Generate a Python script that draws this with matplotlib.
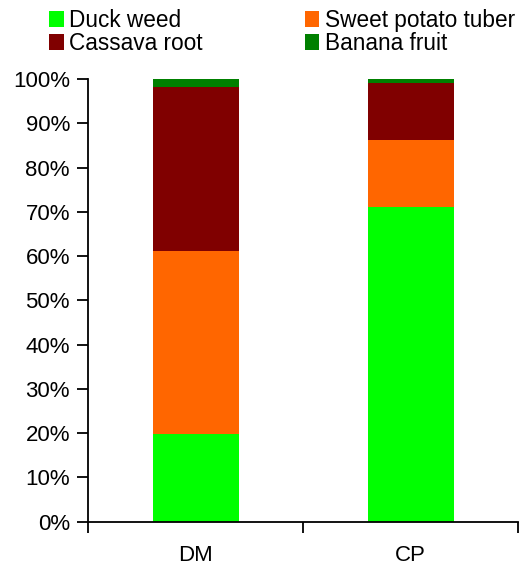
import matplotlib
matplotlib.use("Agg")
import matplotlib.pyplot as plt
from matplotlib.ticker import PercentFormatter, FixedLocator, NullFormatter

plt.rcParams['font.family'] = ['Liberation Sans', 'DejaVu Sans']

categories = ["DM", "CP"]
series_names = ["Duck weed", "Sweet potato tuber", "Cassava root", "Banana fruit"]
duck_weed = [19.7, 71.1]
sweet_potato = [41.5, 15.1]
cassava = [37.0, 12.9]
banana = [1.8, 0.9]
colors = ["#00FF00", "#FF6600", "#800000", "#008000"]
y_ticks = list(range(0, 101, 10))

fig = plt.figure(figsize=(5.29, 5.68), dpi=100)
ax = fig.add_axes([88 / 529, 1 - 521.7 / 568, 430 / 529, (521.7 - 79) / 568])

x = list(range(len(categories)))
bottom = [0.0] * len(categories)
handles = []
for name, vals, col in zip(series_names, [duck_weed, sweet_potato, cassava, banana], colors):
    b = ax.bar(x, vals, width=0.4, bottom=bottom, color=col, label=name, linewidth=0)
    handles.append(b)
    bottom = [bt + v for bt, v in zip(bottom, vals)]

ax.set_xlim(-0.5, 1.5)
ax.set_ylim(0, 100)
ax.set_yticks(y_ticks)
ax.yaxis.set_major_formatter(PercentFormatter(decimals=0))
ax.set_xticks(x)
ax.set_xticklabels(categories)
ax.xaxis.set_minor_locator(FixedLocator([-0.5, 0.5, 1.5]))
ax.xaxis.set_minor_formatter(NullFormatter())
ax.tick_params(axis='x', which='major', length=0, pad=17, labelsize=16)
ax.tick_params(axis='x', which='minor', length=8, width=1.3, direction='out')
ax.tick_params(axis='y', length=8, width=1.3, direction='out', pad=5, labelsize=16)
for s in ['top', 'right']:
    ax.spines[s].set_visible(False)
for s in ['left', 'bottom']:
    ax.spines[s].set_linewidth(1.3)

order = [0, 2, 1, 3]
fig.legend([handles[i] for i in order], [series_names[i] for i in order],
           ncol=2, loc='upper left', bbox_to_anchor=(49 / 529, 1 - 9 / 568),
           frameon=False, fontsize=16.3, handlelength=0.65, handleheight=0.65,
           handletextpad=0.25, labelspacing=0.0, columnspacing=4.5,
           borderpad=0.0, borderaxespad=0)

fig.savefig("out.png", dpi=100)
